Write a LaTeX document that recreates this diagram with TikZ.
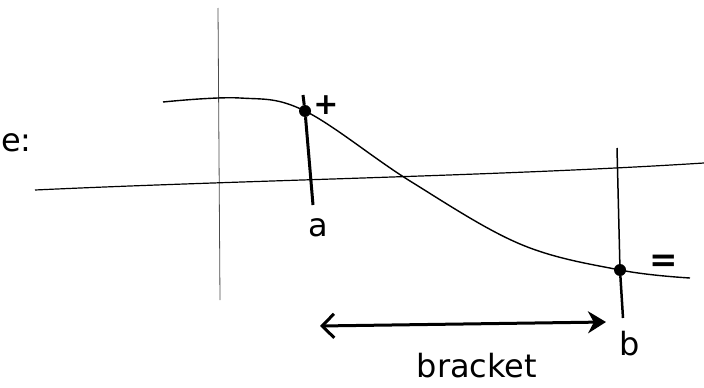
\documentclass[tikz,border=0pt]{standalone}
\usepackage{fontspec}
\setmainfont{DejaVu Sans}
\usetikzlibrary{arrows.meta}
\tikzset{
  punto/.style={circle, fill=black, inner sep=0pt, minimum size=12pt},
  etiqueta/.style={font=\fontsize{32}{36}\selectfont},
}
\begin{document}
\begin{tikzpicture}[x=1pt, y=-1pt]
        \useasboundingbox (0,0) rectangle (704,388);

        % Texto de la izquierda
        \node[etiqueta, anchor=west, inner sep=0pt] (titulo) at (1,143) {e:};

        % Ejes
        \draw[gray!60!black, line width=0.8pt] (218,8) -- (220,300);
        \draw[line width=1.2pt] (35,190) .. controls (250,180) and (500,176) .. (704,163);

        % Funcion
        \draw[line width=1.4pt] plot[smooth, tension=0.6] coordinates {(163,102) (240,98) (305,111) (410,181) (520,244) (620,270) (690,278)};

        % Puntos a y b
        \node[punto] (pa) at (305,111) {};
        \node[punto] (pb) at (620,270) {};
        \draw[line width=3pt] (303,95) -- (pa) -- (313,205) coordinate (pieA);
        \draw[line width=1.5pt] (617,148) -- (pb);
        \draw[line width=2.5pt] (pb) -- (623,318) coordinate (pieB);

        % Signos
        \node[etiqueta, font=\fontsize{30}{30}\bfseries] (mas) at (326,105) {+};
        \node[etiqueta, font=\fontsize{34}{34}\bfseries] (menos) at (664,263) {=};

        % Etiquetas a y b
        \node[etiqueta] (la) at (318,228) {a};
        \node[etiqueta] (lb) at (630,344) {b};

        % Intervalo
        \coordinate (izq) at (320,326);
        \coordinate (der) at (606,322);
        \draw[line width=3pt, {Straight Barb[length=12pt, width=24pt]}-{Stealth[length=18pt, width=22pt]}] (izq) -- (der);
        \node[etiqueta] (bracket) at (477,366) {bracket};
    \end{tikzpicture}
\end{document}
